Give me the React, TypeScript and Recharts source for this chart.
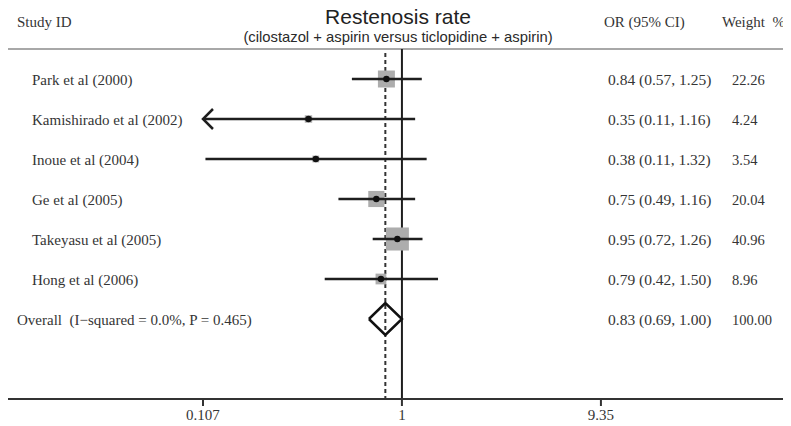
import { ComposedChart, Scatter, XAxis, YAxis, ReferenceLine } from 'recharts';

const studyLabels = [
  'Park et al (2000)',
  'Kamishirado et al (2002)',
  'Inoue et al (2004)',
  'Ge et al (2005)',
  'Takeyasu et al (2005)',
  'Hong et al (2006)',
];
const oddsRatios = [0.84, 0.35, 0.38, 0.75, 0.95, 0.79];
// Kamishirado lower bound sits just under the plotted range (drawn as an arrow)
const lowerCI = [0.57, 0.106, 0.11, 0.49, 0.72, 0.42];
const upperCI = [1.25, 1.16, 1.32, 1.16, 1.26, 1.5];
const weights = [22.26, 4.24, 3.54, 20.04, 40.96, 8.96];

const overallLabel = 'Overall\u00a0 (I\u2212squared = 0.0%, P = 0.465)';
const overallOR = 0.83;
const overallLower = 0.69;
const overallUpper = 1.0;
const overallWeight = 100;

const xTicks = [0.107, 1, 9.35];

const W = 783;
const H = 418;
const SERIF = '"Liberation Serif", "Times New Roman", serif';
const SANS = '"Liberation Sans", Arial, sans-serif';
const TEXT = '#353535';
const INK = '#1e1e1e';

const clipMin = xTicks[0];
const clipMax = xTicks[xTicks.length - 1];
const overallRow = studyLabels.length;

const studies = studyLabels.map((label, i) => ({
  label,
  x: oddsRatios[i],
  y: i,
  w: weights[i],
}));

// one text row per study plus the pooled line
const textRows = [
  ...studyLabels.map((label, i) => ({
    x: 1,
    y: i,
    label,
    ci: `${oddsRatios[i].toFixed(2)} (${lowerCI[i].toFixed(2)}, ${upperCI[i].toFixed(2)})`,
    wt: weights[i].toFixed(2),
    overall: false,
  })),
  {
    x: 1,
    y: overallRow,
    label: overallLabel,
    ci: `${overallOR.toFixed(2)} (${overallLower.toFixed(2)}, ${overallUpper.toFixed(2)})`,
    wt: overallWeight.toFixed(2),
    overall: true,
  },
];

const ciSegments = studyLabels.map((_, i) => [
  { x: Math.max(lowerCI[i], clipMin), y: i, clipped: lowerCI[i] < clipMin, dir: -1 },
  { x: Math.min(upperCI[i], clipMax), y: i, clipped: upperCI[i] > clipMax, dir: 1 },
]);

const DIAMOND_HALF = 0.4;
const diamond = [
  { x: overallLower, y: overallRow },
  { x: overallOR, y: overallRow - DIAMOND_HALF },
  { x: overallUpper, y: overallRow },
  { x: overallOR, y: overallRow + DIAMOND_HALF },
  { x: overallLower, y: overallRow },
];

const pick = (props: any) => props.payload ?? props;

const WeightSquare = (props: any) => {
  const { cx, cy } = props;
  const s = 3.6 * Math.sqrt(pick(props).w);
  return <rect x={cx - s / 2} y={cy - s / 2} width={s} height={s} fill="#adadad" />;
};

const PointDot = (props: any) => <circle cx={props.cx} cy={props.cy} r={3.2} fill="#111" />;

const ArrowEnd = (props: any) => {
  const { cx, cy } = props;
  const p = pick(props);
  if (!p.clipped) return <g />;
  const d = p.dir;
  return (
    <path
      d={`M${cx - d * 10},${cy - 10} L${cx},${cy} L${cx - d * 10},${cy + 10}`}
      fill="none"
      stroke={INK}
      strokeWidth={2.5}
    />
  );
};

const Nothing = () => <g />;

const RowText = (props: any) => {
  const { cy } = props;
  const p = pick(props);
  return (
    <g fontFamily={SERIF} fill={TEXT}>
      <text x={p.overall ? 9 : 24} y={cy} dy={5.5} fontSize={15}>
        {p.label}
      </text>
      <text x={600} y={cy} dy={5.5} fontSize={15.5}>
        {p.ci}
      </text>
      <text x={724} y={cy} dy={5.5} fontSize={14.5}>
        {p.wt}
      </text>
    </g>
  );
};

export default function App() {
  return (
    <div style={{ position: 'relative', width: W, height: H }}>
      <ComposedChart width={W} height={H} margin={{ top: 41, right: 0, bottom: 0, left: 0 }}>
        <XAxis
          type="number"
          dataKey="x"
          scale="log"
          domain={[0.01197, 79.1]}
          ticks={xTicks}
          allowDataOverflow
          height={27}
          stroke="#333"
          axisLine={{ stroke: '#333', strokeWidth: 2 }}
          tickLine={{ stroke: '#333', strokeWidth: 2 }}
          tickSize={7}
          tickMargin={3}
          tick={{ fontSize: 15, fontFamily: SERIF, fill: TEXT }}
          tickFormatter={(v: number) => String(v)}
        />
        <YAxis type="number" dataKey="y" domain={[-0.75, 8]} reversed hide />
        <ReferenceLine y={-0.75} stroke="#a8a8a8" strokeWidth={2} />
        <Scatter data={studies} shape={<WeightSquare />} isAnimationActive={false} />
        {ciSegments.map((seg, i) => (
          <Scatter
            key={i}
            data={seg}
            line={{ stroke: INK, strokeWidth: 2.5 }}
            shape={<ArrowEnd />}
            isAnimationActive={false}
          />
        ))}
        <Scatter data={studies} shape={<PointDot />} isAnimationActive={false} />
        <ReferenceLine x={1} stroke={INK} strokeWidth={2} />
        <ReferenceLine
          segment={[
            { x: overallOR, y: -0.65 },
            { x: overallOR, y: 8 },
          ]}
          stroke="#333"
          strokeWidth={2}
          strokeDasharray="4 3"
        />
        <Scatter
          data={diamond}
          line={{ stroke: '#111', strokeWidth: 2.5 }}
          shape={<Nothing />}
          isAnimationActive={false}
        />
        <Scatter data={textRows} shape={<RowText />} isAnimationActive={false} />
      </ComposedChart>
      {/* header sits partly in the body margin so the title box is not clipped */}
      <svg
        width={W}
        height={48}
        style={{ position: 'absolute', left: 0, top: -8, pointerEvents: 'none' }}
      >
        <text x={9} y={27} fontFamily={SERIF} fontSize={15} fill={TEXT}>
          Study ID
        </text>
        <text x={390} y={23.5} textAnchor="middle" fontFamily={SANS} fontSize={21} fill="#222">
          Restenosis rate
        </text>
        <text x={390} y={41.5} textAnchor="middle" fontFamily={SANS} fontSize={14.8} fill="#2a2a2a">
          (cilostazol + aspirin versus ticlopidine + aspirin)
        </text>
        <text x={596} y={27} fontFamily={SERIF} fontSize={15} fill={TEXT}>
          OR (95% CI)
        </text>
        <text x={714} y={27} fontFamily={SERIF} fontSize={15} fill={TEXT}>
          {'Weight\u00a0 %'}
        </text>
      </svg>
    </div>
  );
}
